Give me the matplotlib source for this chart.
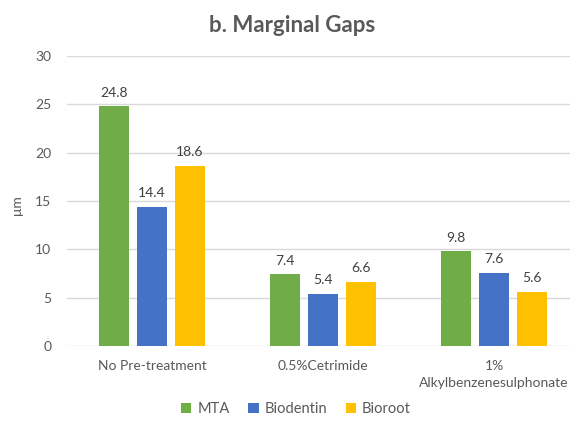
import matplotlib
matplotlib.use("Agg")
import matplotlib.pyplot as plt
import numpy as np

categories = ["No Pre-treatment", "0.5%Cetrimide", "1%\nAlkylbenzenesulphonate"]
series_names = ["MTA", "Biodentin", "Bioroot"]
mta = [24.8, 7.4, 9.8]
biodentin = [14.4, 5.4, 7.6]
bioroot = [18.6, 6.6, 5.6]
colors = ["#70AD47", "#4472C4", "#FFC000"]

plt.rcParams['font.family'] = ['Lato', 'DejaVu Sans']
txt = "#595959"

W, H = 570, 423
fig = plt.figure(figsize=(W/100, H/100), dpi=100)
left, right, bottom, top = 66.5, 570, 346, 56
catw = 171.0
ax = fig.add_axes([left/W, 1-bottom/H, (right-left)/W, (bottom-top)/H])

x = np.arange(len(categories))
bw = 0.175
off = 0.222
for i, (vals, name, c) in enumerate(zip([mta, biodentin, bioroot], series_names, colors)):
    bars = ax.bar(x + (i-1)*off, vals, bw, color=c, label=name, zorder=3)
    for b, v in zip(bars, vals):
        ax.text(b.get_x()+b.get_width()/2, v + 0.8, f"{v:.1f}", ha='center', va='bottom',
                fontsize=10, color="#404040")

ax.set_ylim(0, 30)
ax.set_yticks(range(0, 31, 5))
ax.set_xlim(-0.5, (right-left)/catw - 0.5)
ax.set_xticks(x)
ax.set_xticklabels(categories, fontsize=10, color=txt, linespacing=1.5)
ax.tick_params(axis='y', labelsize=10, labelcolor=txt, length=0, pad=11)
ax.tick_params(axis='x', length=0, pad=10)
ax.grid(axis='y', color="#D9D9D9", linewidth=1, zorder=0)
for s in ax.spines.values():
    s.set_visible(False)
ax.set_ylabel("μm", fontsize=10, color=txt)
ax.yaxis.set_label_coords((23-left)/(right-left), (bottom-205)/(bottom-top))

fig.text(292/W, 1-25/H, "b. Marginal Gaps", ha='center', va='center', fontsize=16,
         fontweight='bold', color=txt)
fig.legend(loc='center', bbox_to_anchor=(296/W, 1-409/H), ncol=3, frameon=False,
           fontsize=10.5, handlelength=0.7, handleheight=0.7, handletextpad=0.4,
           columnspacing=1.3, labelcolor=txt)
fig.savefig("out.png", dpi=100)
